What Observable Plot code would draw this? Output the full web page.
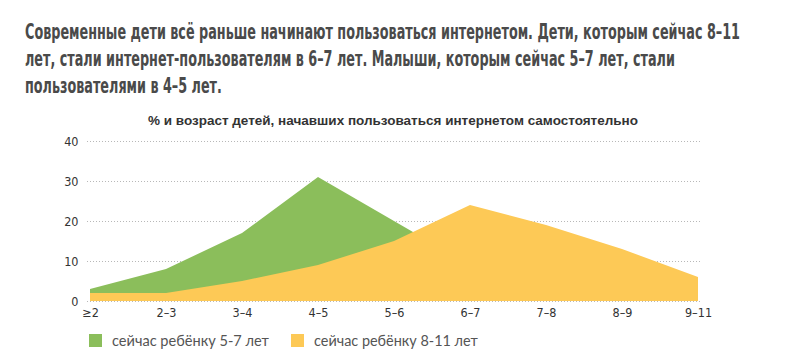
<!DOCTYPE html>
<html>
<head>
<meta charset="utf-8">
<script src="https://cdn.jsdelivr.net/npm/d3@7"></script>
<script src="https://cdn.jsdelivr.net/npm/@observablehq/plot@0.6"></script>
<style>
  html, body { margin: 0; padding: 0; background: #fff; width: 800px; height: 359px; overflow: hidden; position: relative; }
  #title { position: absolute; left: 25px; top: 19px; font-family: "DejaVu Sans Condensed", "Liberation Sans Narrow", sans-serif; font-weight: bold; font-size: 21px; line-height: 27px; color: #4a4a4a; white-space: nowrap; }
  #title .ln { display: block; width: max-content; transform-origin: 0 0; }
  #subtitle { position: absolute; left: 0; width: 786px; top: 113px; text-align: center; font-family: "Liberation Sans", Arial, sans-serif; font-weight: bold; font-size: 13.5px; color: #333; }
  #chart { position: absolute; left: 0; top: 130px; }
  #legend { position: absolute; top: 330px; left: 0; font-family: Lato, "Open Sans", sans-serif; font-size: 16px; color: #555; }
  .item { position: absolute; white-space: nowrap; display: flex; align-items: center; height: 20px; }
  .sw { width: 13px; height: 13px; display: inline-block; margin-right: 10px; }
  .lt { display: inline-block; width: max-content; }
</style>
</head>
<body>
<div id="title"><span class="ln">Современные дети всё раньше начинают пользоваться интернетом. Дети, которым сейчас 8–11</span><span class="ln">лет, стали интернет-пользователям в 6–7 лет. Малыши, которым сейчас 5–7 лет, стали</span><span class="ln">пользователями в 4–5 лет.</span></div>
<div id="subtitle">% и возраст детей, начавших пользоваться интернетом самостоятельно</div>
<div id="chart"></div>
<div id="legend"></div>
<script>
const ages = ["≥2", "2–3", "3–4", "4–5", "5–6", "6–7", "7–8", "8–9", "9–11"];
const seriesNames = ["сейчас ребёнку 5-7 лет", "сейчас ребёнку 8-11 лет"];
const colors = ["#8bbe5b", "#fdc956"];
const young = [3, 8, 17, 31, 20, 9];           // 5-7 year olds (≥2 … 6–7)
const older = [2, 2, 5, 9, 15, 24, 19, 13, 6];  // 8-11 year olds
const yTicks = [0, 10, 20, 30, 40];

const dYoung = young.map((v, i) => ({age: ages[i], value: v}));
const dOlder = older.map((v, i) => ({age: ages[i], value: v}));

const chart = Plot.plot({
  width: 800,
  height: 201,
  marginTop: 11,
  marginBottom: 30,
  marginLeft: 87,
  marginRight: 100,
  style: {fontFamily: "'DejaVu Sans Condensed', 'Liberation Sans Narrow', sans-serif", fontSize: "12.5px", color: "#333", background: "transparent"},
  x: {type: "point", domain: ages, padding: 0, label: null, tickSize: 0, tickPadding: 7},
  y: {domain: [0, 40], ticks: yTicks, label: null, tickSize: 0, tickPadding: 9},
  marks: [
    Plot.gridY(yTicks, {stroke: "#b8b8b8", strokeOpacity: 1, strokeDasharray: "1,2"}),
    Plot.areaY(dYoung, {x: "age", y: "value", fill: colors[0]}),
    Plot.areaY(dOlder, {x: "age", y: "value", fill: colors[1]})
  ]
});
document.getElementById("chart").appendChild(chart);

// narrow the title lines to the reference's condensed width
const lines = document.querySelectorAll("#title .ln");
const w0 = lines[0].getBoundingClientRect().width;
const s = 715 / w0;
lines.forEach(l => { l.style.transform = `scaleX(${s})`; });

const legend = document.getElementById("legend");
const lx = [89, 291];
const targetW = [157, 164];
seriesNames.forEach((name, i) => {
  const it = document.createElement("div");
  it.className = "item";
  it.style.left = lx[i] + "px";
  it.innerHTML = `<span class="sw" style="background:${colors[i]}"></span><span class="lt">${name}</span>`;
  legend.appendChild(it);
  const t = it.querySelector(".lt");
  const w = t.getBoundingClientRect().width;
  t.style.fontSize = (16 * targetW[i] / w).toFixed(2) + "px";
});
</script>
</body>
</html>
